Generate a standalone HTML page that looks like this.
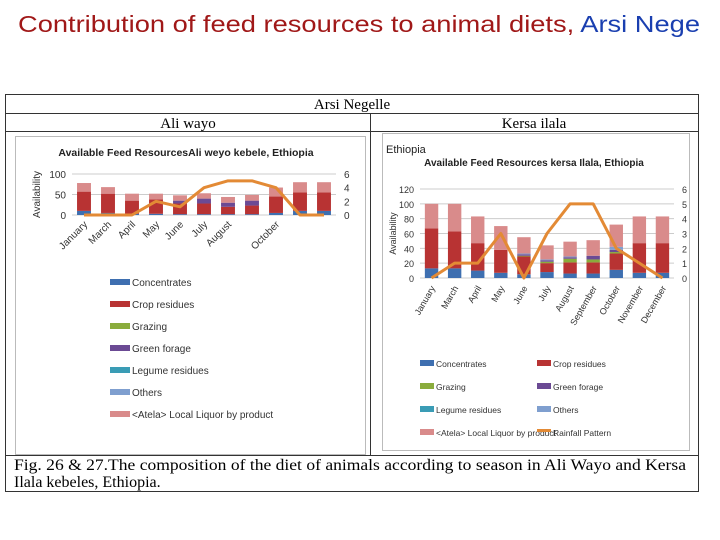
<!DOCTYPE html>
<html><head><meta charset="utf-8"><style>
html,body{margin:0;padding:0;background:#fff;width:720px;height:540px;overflow:hidden;font-family:"Liberation Sans",sans-serif}
svg{position:absolute;left:0;top:0}
</style></head><body>
<svg id="s" width="720" height="540">
<text x="18" y="32" font-size="23" fill="#a01818" textLength="682" lengthAdjust="spacingAndGlyphs">Contribution of feed resources to animal diets, <tspan fill="#1a3fb0">Arsi Nege</tspan></text>
<g stroke="#333" fill="none" stroke-width="1">
<rect x="5.5" y="94.5" width="693" height="397"/>
<line x1="5" y1="113.5" x2="699" y2="113.5"/>
<line x1="5" y1="131.5" x2="699" y2="131.5"/>
<line x1="5" y1="455.5" x2="699" y2="455.5"/>
<line x1="370.5" y1="113" x2="370.5" y2="455"/>
</g>
<text x="352" y="109" font-family="Liberation Serif" font-size="15" text-anchor="middle">Arsi Negelle</text>
<text x="188" y="128" font-family="Liberation Serif" font-size="15" text-anchor="middle">Ali wayo</text>
<text x="534" y="128" font-family="Liberation Serif" font-size="15" text-anchor="middle">Kersa ilala</text>
<rect x="15.5" y="136.5" width="350" height="318" fill="none" stroke="#bbb"/>
<rect x="382.5" y="133.5" width="307" height="317" fill="none" stroke="#bbb"/>
<text x="186" y="156" font-size="10.5" text-anchor="middle" font-weight="bold" fill="#222">Available Feed ResourcesAli weyo kebele, Ethiopia</text>
<text x="386" y="153" font-size="11" fill="#222">Ethiopia</text>
<text x="534" y="166" font-size="10" text-anchor="middle" font-weight="bold" fill="#222">Available Feed Resources kersa Ilala, Ethiopia</text>
<text x="14" y="470" font-family="Liberation Serif" font-size="16" textLength="672" lengthAdjust="spacingAndGlyphs">Fig. 26 &amp; 27.The composition of the diet of animals according to season in Ali Wayo and  Kersa</text>
<text x="14" y="487" font-family="Liberation Serif" font-size="16">Ilala kebeles, Ethiopia.</text>
<g id="L"></g><g id="R"></g>
</svg>
<script>
const seriesNames=["Concentrates","Crop residues","Grazing","Green forage","Legume residues","Others","<Atela> Local Liquor by product"];
const colors=["#3e6fb0","#b83333","#8aac3c","#6b4a94","#3a9cb5","#7f9fcf","#d98b8b"];
const leftMonths=["January","March","April","May","June","July","August","","October","",""];
const leftConc=[10,5,3,3,2,2,2,2,5,10,10];
const leftCrop=[47,47,32,35,26,26,18,21,40,45,45];
const leftGraz=[0,0,0,0,0,0,0,0,0,0,0];
const leftGreen=[0,0,0,0,7,12,10,12,0,0,0];
const leftLeg=[0,0,0,0,0,0,0,0,0,0,0];
const leftOth=[0,0,0,0,0,0,0,0,0,0,0];
const leftAtela=[21,16,17,14,13,13,14,14,22,25,25];
const leftRain=[0,0,0,2,1.2,4,5,5,4,0,0];
const leftTicks=[0,50,100];const leftRTicks=[0,2,4,6];
const rightMonths=["January","March","April","May","June","July","August","September","October","November","December"];
const rightConc=[13,13,10,7,5,8,6,6,11,7,7];
const rightCrop=[54,50,37,31,24,12,15,15,22,40,40];
const rightGraz=[0,0,0,0,1,2,5,4,2,0,0];
const rightGreen=[0,0,0,0,2,2,2,5,3,0,0];
const rightLeg=[0,0,0,0,0,0,0,0,0,0,0];
const rightOth=[0,0,0,0,1,1,1,0,4,0,0];
const rightAtela=[33,37,36,32,22,19,20,21,30,36,36];
const rightRain=[0,1,1,3,0,3,5,5,2,1,0];
const rightTicks=[0,20,40,60,80,100,120];const rightRTicks=[0,1,2,3,4,5,6];
const NS="http://www.w3.org/2000/svg";
function mk(p,t,a){const e=document.createElementNS(NS,t);for(const k in a)e.setAttribute(k,a[k]);p.appendChild(e);return e;}
function chart(g,o){
 const n=o.months.length;
 const x=i=>o.x0+(i+0.5)*(o.x1-o.x0)/n;
 const y=v=>o.yb-(v/o.ymax)*(o.yb-o.yt);
 const yr=v=>o.yb-(v/o.rmax)*(o.yb-o.yt);
 o.ticks.forEach(t=>{
  const gl=mk(g,"line",{x1:o.x0,x2:o.x1,y1:y(t),y2:y(t),stroke:"#ccc"});
  
  
  const tx=mk(g,"text",{x:o.x0-6,y:y(t)+4,"font-size":o.fs,"text-anchor":"end",fill:"#333"});tx.textContent=t;
  
  
 });
 o.rticks.forEach(t=>{
  const tx=mk(g,"text",{x:o.x1+8,y:yr(t)+4,"font-size":o.fs,fill:"#333"});tx.textContent=t;
  
  
 });
 const yt=mk(g,"text",{transform:`translate(${o.ylx},${(o.yt+o.yb)/2}) rotate(-90)`,"font-size":o.fs,"text-anchor":"middle",fill:"#333"});yt.textContent="Availability";
 
 
 const bw=(o.x1-o.x0)/n*0.58;
 for(let i=0;i<n;i++){
  let acc=0;
  o.series.forEach((s,k)=>{
   const v=s[i];if(v<=0)return;
   const r=mk(g,"rect",{x:x(i)-bw/2,y:y(acc+v),width:bw,height:y(acc)-y(acc+v),fill:colors[k]});
   
   
   acc+=v;
  });
  if(o.months[i]){
   const t=mk(g,"text",{transform:`translate(${x(i)+4},${o.yb+10}) rotate(${o.rot})`,"font-size":o.fs,"text-anchor":"end",fill:"#333"});t.textContent=o.months[i];
   
   
  }
 }
 const p=mk(g,"polyline",{points:o.rain.map((v,i)=>x(i)+","+yr(v)).join(" "),fill:"none",stroke:"#e38a35","stroke-width":3,"stroke-linejoin":"round"});
 
 
}
const L=document.getElementById("L"),R=document.getElementById("R");
chart(L,{months:leftMonths,series:[leftConc,leftCrop,leftGraz,leftGreen,leftLeg,leftOth,leftAtela],rain:leftRain,ticks:leftTicks,rticks:leftRTicks,ymax:100,rmax:6,x0:72,x1:336,yt:174,yb:215,fs:10,rot:-45,ylx:40});
chart(R,{months:rightMonths,series:[rightConc,rightCrop,rightGraz,rightGreen,rightLeg,rightOth,rightAtela],rain:rightRain,ticks:rightTicks,rticks:rightRTicks,ymax:120,rmax:6,x0:420,x1:674,yt:189,yb:278,fs:9,rot:-60,ylx:396});
seriesNames.forEach((nm,k)=>{
 const ly=283+k*22;
 const r=mk(L,"rect",{x:110,y:ly-4,width:20,height:6,fill:colors[k]});
 
 
 const t=mk(L,"text",{x:132,y:ly+3,"font-size":10,fill:"#333"});t.textContent=nm;
 
 
});
const rNames=seriesNames.concat(["Rainfall Pattern"]);const rCols=colors.concat(["#e38a35"]);
rNames.forEach((nm,k)=>{
 const lx=k%2?537:420,ly=364+Math.floor(k/2)*23;
 const r=mk(R,"rect",{x:lx,y:ly-4,width:14,height:k==7?3:6,fill:rCols[k]});
 
 
 const t=mk(R,"text",{x:lx+16,y:ly+3,"font-size":8.5,fill:"#333"});t.textContent=nm;
 
 
});
</script>
</body></html>
